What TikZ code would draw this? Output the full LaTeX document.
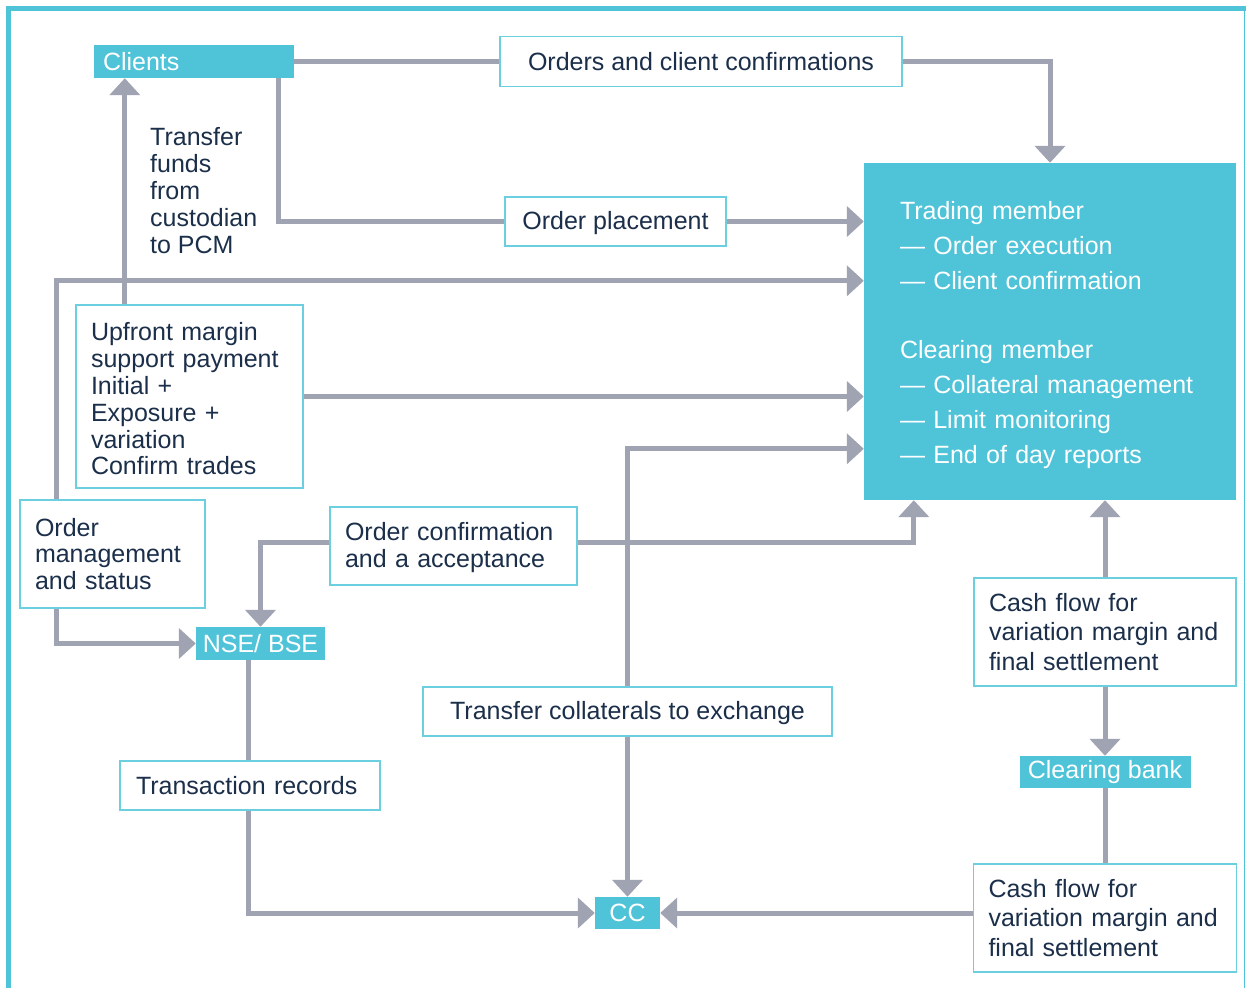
\documentclass[tikz,border=0pt]{standalone}
\usepackage{fontspec}
\setmainfont{Liberation Sans}
\usetikzlibrary{arrows.meta,calc}
\definecolor{cy}{HTML}{4FC3D8}
\definecolor{cyb}{HTML}{6CCFE0}
\definecolor{gr}{HTML}{A0A3B1}
\definecolor{ink}{HTML}{1B2F4A}
\newcommand{\topstrut}[1]{\rule{0pt}{#1}}
\begin{document}
\begin{tikzpicture}[x=1pt,y=-1pt,
  wbox/.style={draw=cyb, line width=1.5pt, fill=white, text=ink, font=\fontsize{25}{26.8}\selectfont, inner ysep=0pt},
  cbox/.style={fill=cy, text=white, font=\fontsize{25}{26.8}\selectfont, inner ysep=0pt, inner xsep=0pt},
  lbox/.style={wbox, inner xsep=15pt, align=left},
  ctext/.style={inner xsep=0pt, align=center},
  conn/.style={draw=gr, line width=5pt},
  arr/.style={conn, -{Triangle[length=17pt,width=30pt]}},
  frame/.style={fill=cy}
]
\useasboundingbox (0,0) rectangle (1246,988);
% outer frame
\fill[frame] (6,6) rectangle (11,988);
\fill[frame] (6,6) rectangle (1246,11);
\draw[cy, line width=1.5pt] (1244.5,11) -- (1244.5,988);

% nodes
\node[cbox, minimum width=200pt, minimum height=33pt, text width=182pt, inner xsep=9pt, align=left] (clients) at (194,61.5) {Clients};
\node[wbox, ctext, minimum width=402pt, minimum height=50pt] (orders) at (701,61.5) {Orders and client confirmations};
\node[wbox, ctext, minimum width=221pt, minimum height=49pt] (placement) at (615.5,221.5) {\topstrut{21pt}Order placement};
\node[cbox, minimum width=372pt, minimum height=337pt, text width=300pt, inner xsep=36pt, align=left, font=\fontsize{25}{34.8}\selectfont] (trading) at (1050,331.5)
  {\topstrut{25pt}Trading member\\\textemdash\ Order execution\\\textemdash\ Client confirmation\\[34.8pt]Clearing member\\\textemdash\ Collateral management\\\textemdash\ Limit monitoring\\\textemdash\ End of day reports};
\node[anchor=west, inner sep=0pt, align=left, text=ink, font=\fontsize{25}{26.8}\selectfont] (tflabel) at (150,190.5)
  {Transfer\\funds\\from\\custodian\\to PCM};
\node[lbox, minimum width=227pt, minimum height=183pt, text width=197pt] (upfront) at (189.5,396.5)
  {\topstrut{23pt}Upfront margin\\support payment\\Initial +\\Exposure +\\variation\\Confirm trades};
\node[lbox, minimum width=185pt, minimum height=108pt, text width=155pt] (ordermgmt) at (112.5,554)
  {Order\\management\\and status};
\node[lbox, minimum width=247pt, minimum height=78pt, text width=217pt] (ordconf) at (453.5,546)
  {\topstrut{21pt}Order confirmation\\and a acceptance};
\node[cbox, ctext, minimum width=129pt, minimum height=33pt] (nse) at (260.5,643.5) {NSE/ BSE};
\node[wbox, ctext, minimum width=409pt, minimum height=49pt] (collat) at (627.5,711.5) {\topstrut{22pt}Transfer collaterals to exchange};
\node[wbox, ctext, minimum width=260pt, minimum height=49pt, text width=228pt, inner xsep=16pt, align=left] (trans) at (250,785.5) {Transaction records};
\node[cbox, ctext, minimum width=65pt, minimum height=32pt] (cc) at (627.5,913) {CC};
\node[lbox, minimum width=262pt, minimum height=108pt, text width=232pt, font=\fontsize{25}{29.5}\selectfont] (cf1) at (1105,632)
  {Cash flow for\\variation margin and\\final settlement};
\node[cbox, ctext, minimum width=171pt, minimum height=32pt] (cbank) at (1105,772) {Clearing bank};
\node[lbox, minimum width=263pt, minimum height=108pt, text width=233pt, font=\fontsize{25}{29.5}\selectfont] (cf2) at (1105,918)
  {Cash flow for\\variation margin and\\final settlement};

% helper coordinates
\coordinate (tfx) at ([xshift=31pt]clients.south west);
\coordinate (clx) at ([xshift=-16pt]clients.south east);
\coordinate (omx) at ([xshift=37pt]ordermgmt.north west);
\coordinate (omy) at ([yshift=-118pt]trading.north west);
\coordinate (coly) at ([yshift=-286pt]trading.north west);
\coordinate (tsx) at ([xshift=50pt]trading.south west);
\coordinate (ocw) at ([yshift=4pt]ordconf.west);
\coordinate (oce) at ([yshift=4pt]ordconf.east);
\coordinate (trx) at ([xshift=-2pt]trans.north);

% connectors
\draw[conn] (clients.east) -- (orders.west);
\draw[arr] (orders.east) -| (trading.north);
\draw[conn] (clx) |- (placement.west);
\draw[arr] (placement.east) -- (trading.west |- placement.east);
\draw[arr] (upfront.north -| tfx) -- (tfx);
\draw[arr] (omx) |- (omy);
\draw[arr] (ordermgmt.south -| omx) |- (nse.west);
\draw[arr] (upfront.east) -- (trading.west |- upfront.east);
\draw[arr] (ocw) -| (nse.north);
\draw[arr] (oce) -| (tsx);
\draw[arr] (collat.north) |- (coly);
\draw[arr] (collat.south) -- (cc.north);
\draw[conn] (nse.south -| trx) -- (trx);
\draw[arr] (trans.south -| trx) |- (cc.west);
\draw[arr] (cf1.north) -- (trading.south -| cf1.north);
\draw[arr] (cf1.south) -- (cbank.north);
\draw[conn] (cbank.south) -- (cf2.north);
\draw[arr] (cf2.west |- cc.east) -- (cc.east);
\end{tikzpicture}
\end{document}
